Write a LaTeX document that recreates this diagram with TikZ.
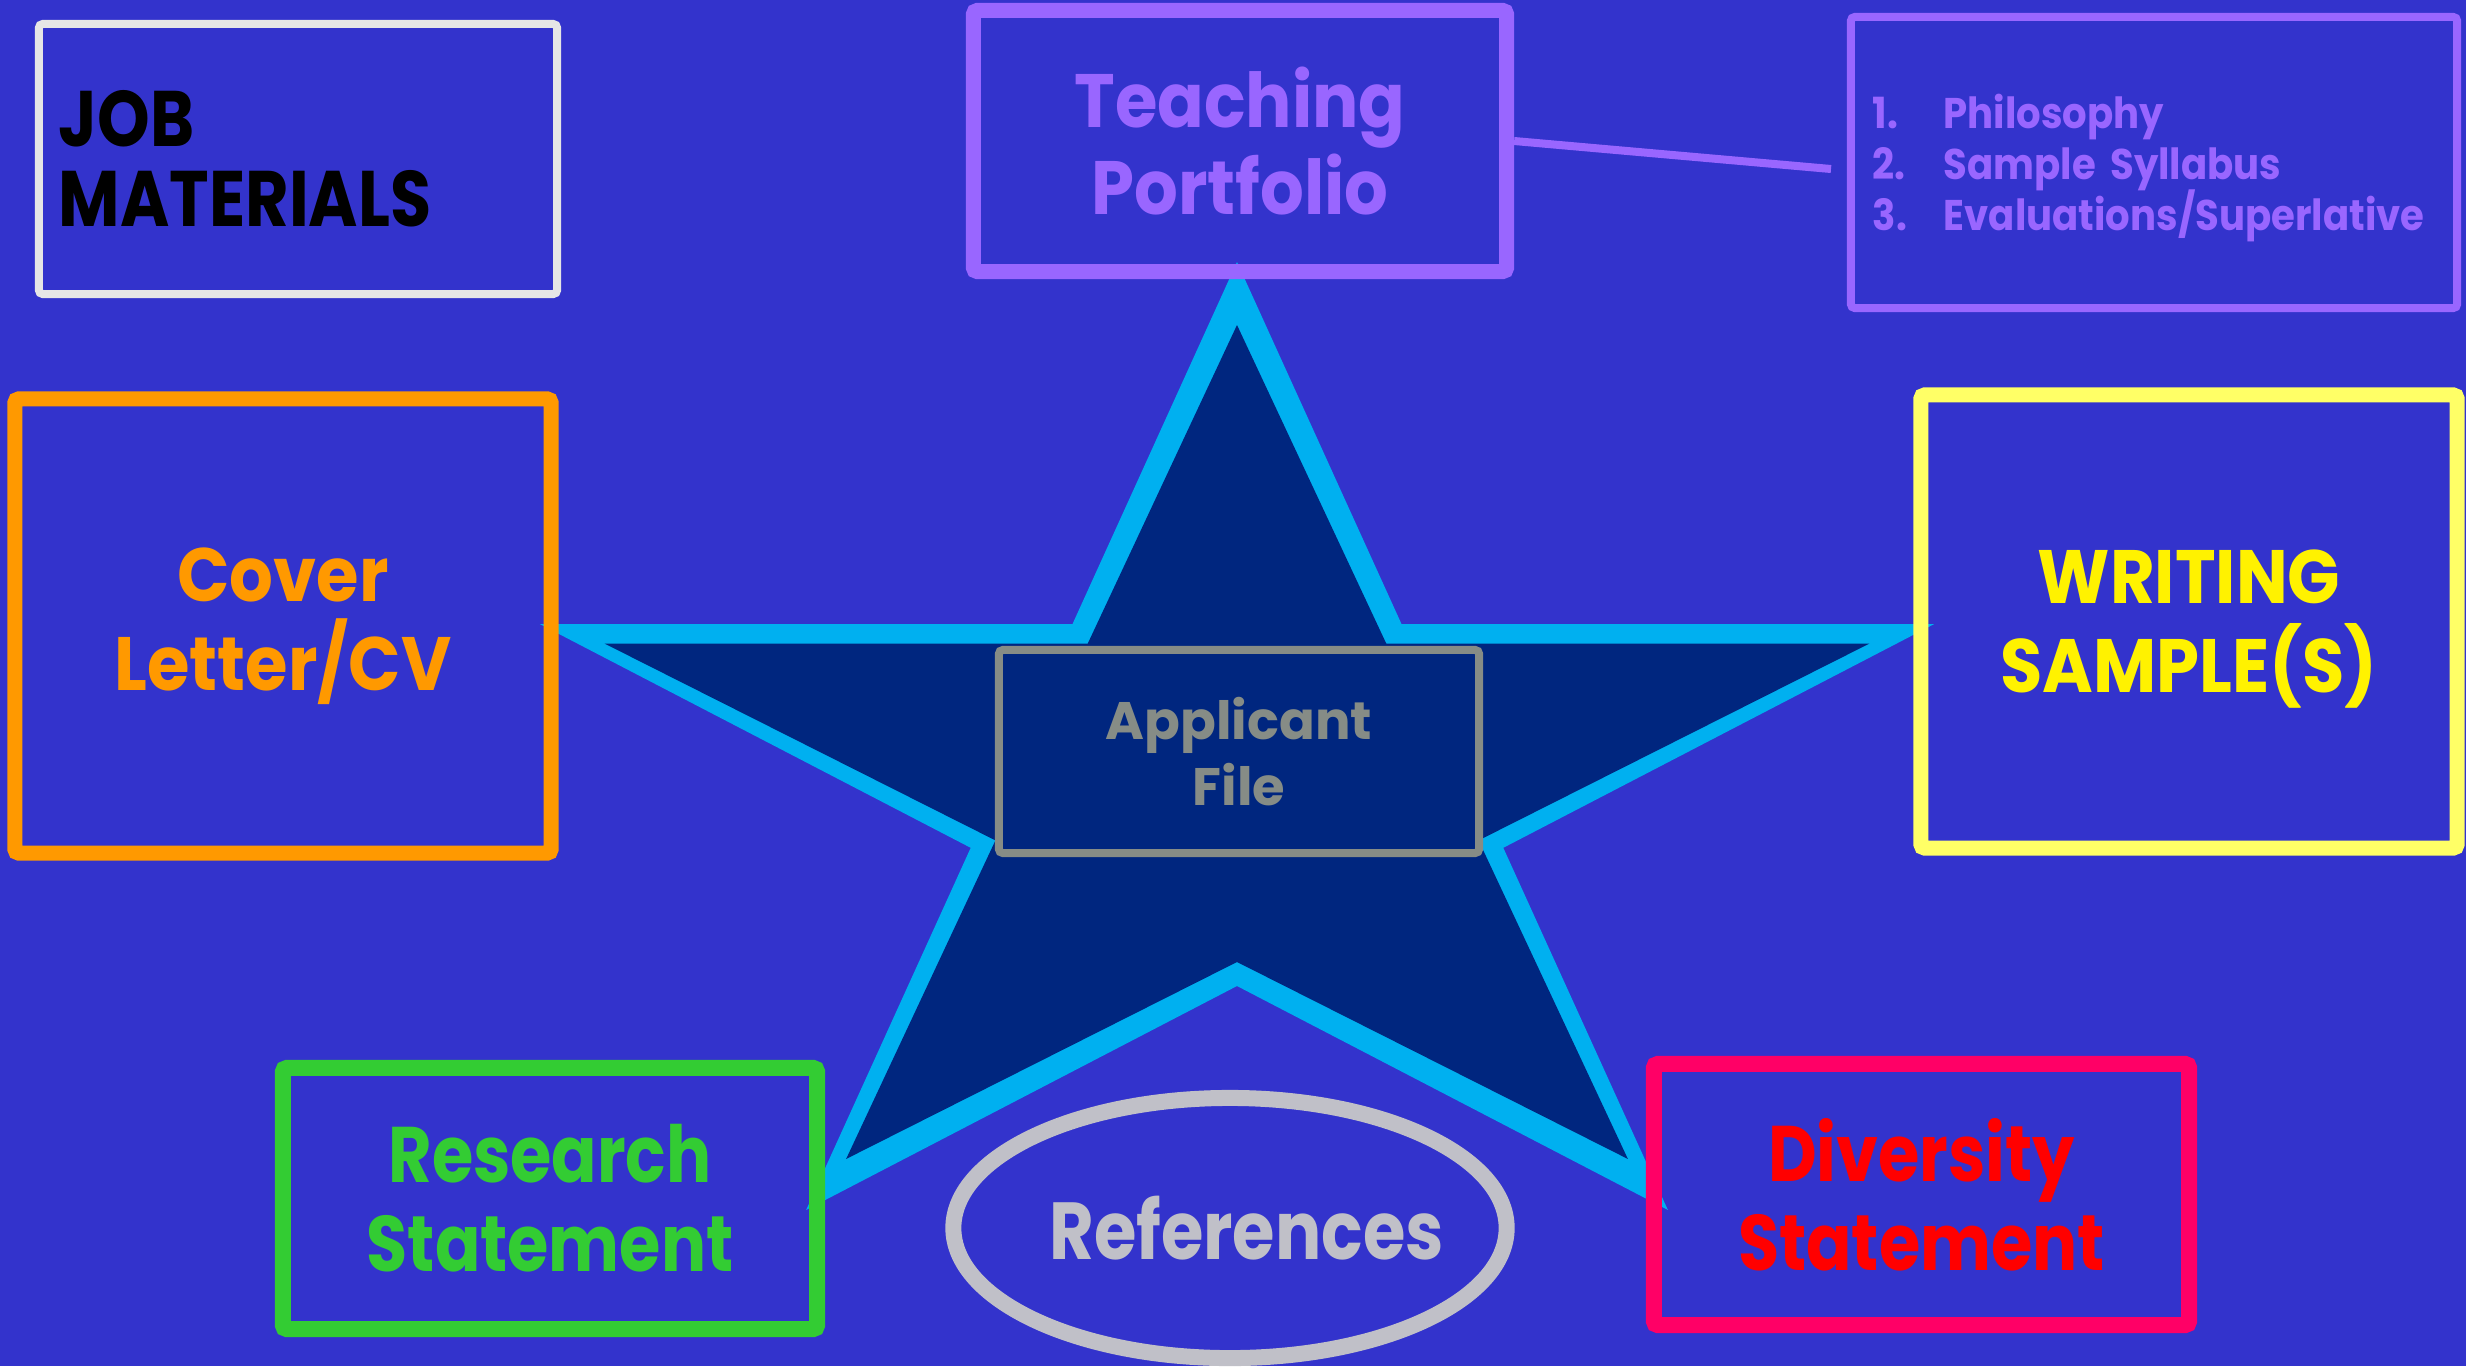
\documentclass[tikz,border=0pt]{standalone}
\usepackage{fontspec}
\setmainfont{Poppins}
\newfontfamily\narrowfont{Poppins}[FakeStretch=0.85]
\newfontfamily\listfont{Poppins}[FakeStretch=0.9]
\newfontfamily\widefont{Poppins}[FakeStretch=0.91]
\usetikzlibrary{calc,shapes.geometric}
\definecolor{slide}{HTML}{3333CC}
\definecolor{rim}{HTML}{00B0F0}
\definecolor{navy}{HTML}{00267F}
\definecolor{lilac}{HTML}{9966FF}
\definecolor{jobgray}{HTML}{E6E6E6}
\definecolor{coverorange}{HTML}{FF9900}
\definecolor{writeyellow}{HTML}{FFFF66}
\definecolor{filegray}{HTML}{868C86}
\definecolor{researchgreen}{HTML}{33CC33}
\definecolor{diversepink}{HTML}{FF0066}
\definecolor{refgray}{HTML}{C0C0C8}
\tikzset{
% one box per job material
item box/.style={rectangle,draw,inner sep=0,align=center,rounded corners=0.04cm,
  font=\widefont\bfseries\fontsize{21.5}{25.3}\selectfont},
narrow box/.style={item box,font=\narrowfont\bfseries\fontsize{22.4}{25.3}\selectfont},
tie/.style={draw=lilac,line width=0.08cm}
}
\begin{document}
\begin{tikzpicture}[x=0.01cm,y=-0.01cm]
\fill[slide] (0,0) rectangle (2466,1366);
\useasboundingbox (0,0) rectangle (2466,1366);
% The star
\coordinate (star) at (1237,786);
\fill[rim] ($(star)+(-90:733 and 524)$)
  \foreach \a in {-90,-18,54,126,198}{ -- ($(star)+(\a:733 and 524)$) -- ($(star)+(\a+36:280 and 200)$)} -- cycle;
\fill[navy] ($(star)+(-90:665 and 461)$)
  \foreach \a in {-90,-18,54,126,198}{ -- ($(star)+(\a:665 and 461)$) -- ($(star)+(\a+36:254 and 176)$)} -- cycle;
% The boxes
\node(job)[narrow box,draw=jobgray,line width=0.08cm,minimum height=2.7cm,text width=4.78cm,
  inner xsep=0.2cm,align=left,font=\narrowfont\bfseries\fontsize{22.4}{22.8}\selectfont] at (298,159) {JOB\\MATERIALS};
\node(teach)[item box,draw=lilac,text=lilac,line width=0.15cm,minimum width=5.33cm,minimum height=2.61cm,
  font=\widefont\bfseries\fontsize{21.5}{24.5}\selectfont] at (1240,141) {Teaching\\Portfolio};
\node(list)[item box,draw=lilac,text=lilac,line width=0.08cm,minimum width=6.06cm,minimum height=2.91cm,
  text width=5.62cm,inner xsep=0.22cm,align=left,font=\listfont\bfseries\fontsize{12.2}{14.4}\selectfont] at (2154,162.5)
  {\makebox[0.71cm][l]{1.}Philosophy\\\makebox[0.71cm][l]{2.}Sample Syllabus\\\makebox[0.71cm][l]{3.}\smash{Evaluations/Superlative}};
\node(cover)[item box,draw=coverorange,text=coverorange,line width=0.15cm,minimum width=5.36cm,minimum height=4.54cm] at (283,626) {Cover\\Letter/CV};
\node(writing)[item box,draw=writeyellow,text=yellow,line width=0.15cm,minimum width=5.36cm,minimum height=4.53cm] at (2189,621.5) {WRITING\\SAMPLE\smash{(}S\smash{)}};
\node(file)[item box,draw=filegray,fill=navy,text=filegray,line width=0.08cm,minimum width=4.8cm,minimum height=2.03cm,
  font=\bfseries\fontsize{15}{19}\selectfont] at (1239,751.5) {Applicant\\File};
\node(research)[narrow box,draw=researchgreen,text=researchgreen,line width=0.16cm,minimum width=5.34cm,minimum height=2.61cm] at (550,1198.5) {Research\\Statement};
\node(diversity)[narrow box,draw=diversepink,text=red,line width=0.16cm,minimum width=5.35cm,minimum height=2.61cm] at (1921.5,1194.5) {Diversity\\Statement};
\node(refs)[narrow box,ellipse,draw=refgray,text=refgray,line width=0.16cm,minimum width=5.53cm,minimum height=2.6cm,
  font=\narrowfont\bfseries\fontsize{23}{25.3}\selectfont] at (1230,1228) {\makebox[0pt]{\hspace*{0.33cm}References}};
% The tie to the list
\coordinate(listtip) at (1831,169);
\draw[tie] (teach.east) -- (listtip);
\end{tikzpicture}
\end{document}
